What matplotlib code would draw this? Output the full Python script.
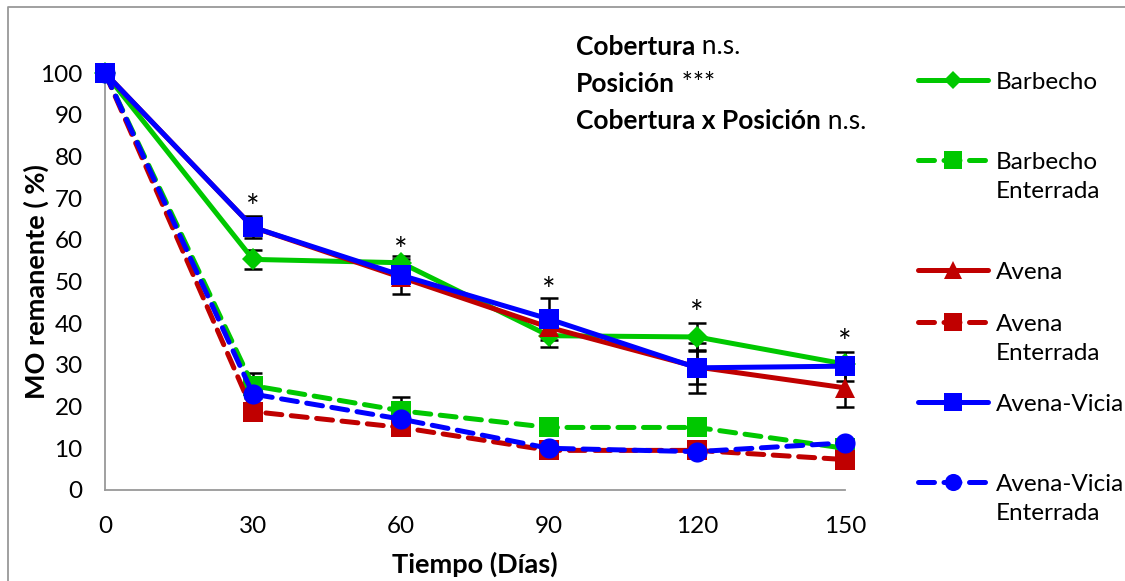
import numpy as np
import matplotlib
matplotlib.use('Agg')
import matplotlib.pyplot as plt
from matplotlib.lines import Line2D

plt.rcParams['font.family'] = ['Lato', 'DejaVu Sans']

# Datos
dias = [0, 30, 60, 90, 120, 150]

barbecho = [100, 55.3, 54.5, 37.0, 36.7, 30.2]
barbecho_ent = [100, 25.0, 19.0, 15.0, 15.0, 10.0]
avena = [100, 63.0, 51.0, 39.0, 29.5, 24.5]
avena_ent = [100, 18.8, 15.0, 9.5, 9.5, 7.3]
avena_vicia = [100, 63.0, 51.5, 41.0, 29.3, 29.7]
avena_vicia_ent = [100, 23.0, 17.0, 10.0, 9.2, 11.3]

err_barbecho = [0, 2.2, 1.0, 2.6, 3.3, 0]
err_barbecho_ent = [0, 3.0, 3.3, 0, 0, 0]
err_avena = [0, 0, 0, 0, 4.0, 4.5]
err_avena_ent = [0, 0, 0, 0, 0, 0]
err_avena_vicia = [0, 2.6, 4.6, 5.0, 6.0, 3.5]
err_avena_vicia_ent = [0, 0, 0, 0, 0, 0]

sig_x = [30, 60, 90, 120, 150]
sig_y = [67.5, 57.0, 47.5, 42.0, 35.0]

labels = ['Barbecho', 'Barbecho\nEnterrada', 'Avena', 'Avena\nEnterrada',
          'Avena-Vicia', 'Avena-Vicia\nEnterrada']
# posicion vertical (px desde arriba) de cada entrada de la leyenda
leyenda_y = [80, 160, 270, 322, 402, 482]

verde = '#00C800'
rojo = '#C00000'
azul = '#0000FF'
guion = (0, (3.2, 1.9))

series = [
    (barbecho, err_barbecho, verde, '-', 'D', 11),
    (barbecho_ent, err_barbecho_ent, verde, guion, 's', 14.5),
    (avena, err_avena, rojo, '-', '^', 14.5),
    (avena_ent, err_avena_ent, rojo, guion, 's', 14.5),
    (avena_vicia, err_avena_vicia, azul, '-', 's', 14.5),
    (avena_vicia_ent, err_avena_vicia_ent, azul, guion, 'o', 14.5),
]

W, H = 1125, 581
fig = plt.figure(figsize=(W / 100, H / 100), dpi=100)
ax = fig.add_axes([105 / W, 91 / H, 740 / W, 417 / H])

for i, (vals, err, col, ls, mk, ms) in enumerate(series):
    ax.errorbar(dias, vals, yerr=[e if e > 0 else np.nan for e in err], fmt='none',
                ecolor='black', elinewidth=1.8, capsize=6.5, capthick=1.8,
                zorder=2 + i * 0.1, clip_on=False)
    ax.plot(dias, vals, color=col, linestyle=ls, linewidth=3.6,
            marker=mk, markersize=ms, markeredgewidth=0,
            dash_capstyle='round', solid_capstyle='round',
            zorder=3 + i * 0.1, clip_on=False)

for x, y in zip(sig_x, sig_y):
    ax.text(x, y, '*', ha='center', va='center', fontsize=23, color='black', zorder=6)

ax.set_xlim(0, 150)
ax.set_ylim(0, 100)
ax.set_xticks(dias)
ax.set_yticks(np.arange(0, 101, 10))
ax.tick_params(axis='both', length=0, labelsize=17.5, colors='black')
ax.tick_params(axis='x', pad=19)
ax.tick_params(axis='y', pad=16)
for s in ['top', 'right']:
    ax.spines[s].set_visible(False)
for s in ['left', 'bottom']:
    ax.spines[s].set_color('#999999')
    ax.spines[s].set_linewidth(1.3)

ax.set_xlabel('Tiempo (Días)', fontsize=19.5, fontweight='bold', labelpad=10)
ax.set_ylabel('MO remanente ( %)', fontsize=19.5, fontweight='bold', labelpad=-6)

# Leyenda dibujada a mano (espaciado irregular como en el original)
for i, (vals, err, col, ls, mk, ms) in enumerate(series):
    yy = 1 - leyenda_y[i] / H
    fig.add_artist(Line2D([918 / W, 988 / W], [yy, yy], transform=fig.transFigure,
                          color=col, linestyle=ls, linewidth=3.6,
                          dash_capstyle='round', solid_capstyle='round'))
    fig.add_artist(Line2D([953 / W], [yy], transform=fig.transFigure, color=col,
                          marker=mk, markersize=ms * 0.85, markeredgewidth=0, linestyle='none'))
    fig.text(996 / W, 1 - (leyenda_y[i] - 8) / H, labels[i], fontsize=17.5,
             va='top', ha='left', linespacing=1.5)

# Texto de significancia
lineas = [('Cobertura', ' n.s.'), ('Posición', ' ***'), ('Cobertura x Posición', ' n.s.')]
for k, (negrita, normal) in enumerate(lineas):
    yy = 1 - (47 + k * 37) / H
    t = fig.text(576 / W, yy, negrita, fontsize=19, fontweight='bold', va='center')
    ax.annotate(normal, xy=(1, 0.5), xycoords=t, va='center', ha='left', fontsize=19)

# Borde del area del grafico
fig.add_artist(Line2D([8 / W, 8 / W, 1.0], [0.0, 1 - 7 / H, 1 - 7 / H],
                      transform=fig.transFigure, color='#999999', linewidth=1.3))

fig.savefig('out.png', dpi=100)
